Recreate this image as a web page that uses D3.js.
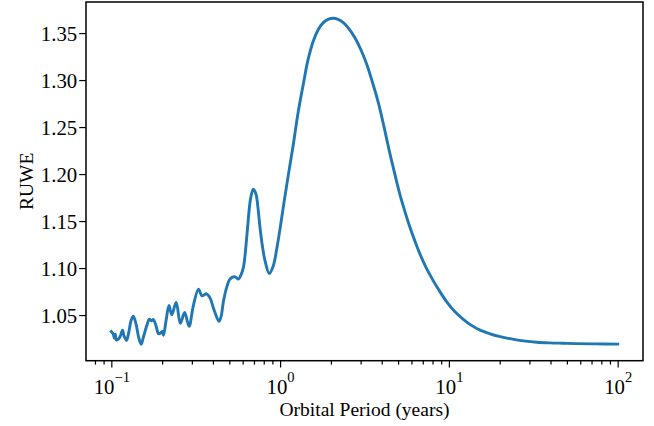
<!DOCTYPE html>
<html>
<head>
<meta charset="utf-8">
<script src="https://cdn.jsdelivr.net/npm/d3@7"></script>
<style>
  html, body { margin: 0; padding: 0; background: #fff; }
  svg text { font-family: "Liberation Serif", "Times New Roman", serif; fill: #000; }
</style>
</head>
<body>
<svg id="chart" width="654" height="426"></svg>
<script>
// Orbital period (years) sampled along the curve
const period = [
  0.100, 0.1027, 0.1041, 0.1056, 0.1070, 0.1100, 0.1126, 0.1165, 0.1189, 0.1230,
  0.1268, 0.1308, 0.1350, 0.1401, 0.1453, 0.1503, 0.1547, 0.1621, 0.1680, 0.1731,
  0.1774, 0.1840, 0.1904, 0.1943, 0.2005, 0.2038, 0.2109, 0.2197, 0.2280, 0.2423,
  0.2563, 0.2718, 0.2886, 0.3060, 0.3284, 0.3445, 0.3664, 0.3843, 0.4059, 0.4345,
  0.4466, 0.4621, 0.4815, 0.5015, 0.5190, 0.5406, 0.5671, 0.5867, 0.6053, 0.6195,
  0.6392, 0.6695, 0.6938, 0.7198, 0.7396, 0.7603, 0.7867, 0.8141, 0.8631, 0.9117,
  0.9548, 0.9989, 1.0447, 1.114, 1.198, 1.277, 1.372, 1.463, 1.573, 1.677,
  1.803, 1.922, 2.067, 2.203, 2.369, 2.560, 2.779, 3.016, 3.260, 3.504,
  3.818, 4.128, 4.437, 4.796, 5.134, 5.496, 5.885, 6.300, 6.745, 7.318,
  8.087, 8.863, 9.708, 10.87, 12.17, 13.53, 15.30, 17.52, 19.82, 22.01,
  24.65, 27.61, 33.28, 39.73, 47.45, 57.21, 74.44, 100.0
];

// RUWE at each sampled period
const ruwe = [
  1.0325, 1.0297, 1.0255, 1.0297, 1.0234, 1.0244, 1.0269, 1.0338, 1.0279, 1.0231,
  1.0314, 1.0439, 1.0489, 1.0404, 1.0261, 1.0188, 1.0261, 1.0386, 1.0457, 1.0439,
  1.0452, 1.0386, 1.0301, 1.0304, 1.0327, 1.0285, 1.0439, 1.0601, 1.0503, 1.0633,
  1.0412, 1.0527, 1.0380, 1.0598, 1.0776, 1.0705, 1.0726, 1.0683, 1.0556, 1.0433,
  1.0481, 1.0651, 1.0790, 1.0875, 1.0901, 1.0907, 1.0882, 1.0928, 1.1002, 1.1130,
  1.1396, 1.1747, 1.1839, 1.1786, 1.1640, 1.1431, 1.1226, 1.1077, 1.0942, 1.1024,
  1.1204, 1.1417, 1.1651, 1.1970, 1.2318, 1.2650, 1.2956, 1.3214, 1.3416, 1.3533,
  1.3611, 1.3645, 1.3657, 1.3645, 1.3611, 1.3544, 1.3448, 1.3320, 1.3168, 1.2991,
  1.2760, 1.2502, 1.2246, 1.1991, 1.1779, 1.1598, 1.1431, 1.1284, 1.1148, 1.1008,
  1.0864, 1.0747, 1.0641, 1.0534, 1.0455, 1.0393, 1.0340, 1.0301, 1.0273, 1.0255,
  1.0239, 1.0226, 1.0211, 1.0204, 1.0200, 1.0196, 1.0193, 1.0191
];

const yTicks = [1.05, 1.10, 1.15, 1.20, 1.25, 1.30, 1.35];
const xMajorTicks = [0.1, 1, 10, 100];
const xTickExponents = ["\u22121", "0", "1", "2"];
const xLabel = "Orbital Period (years)";
const yLabel = "RUWE";

const svg = d3.select("#chart");
const margin = { left: 86, top: 2, right: 11, bottom: 65.3 };
const W = 654, H = 426;
const plotW = W - margin.left - margin.right;
const plotH = H - margin.top - margin.bottom;
const fontSize = 19.5;
const tickFont = 20.8;

const data = period.map((p, i) => ({ p, v: ruwe[i] }));

// log x with 5% padding in decades; linear y with 5% padding
const lx0 = Math.log10(d3.min(period)), lx1 = Math.log10(d3.max(period));
const padX = (lx1 - lx0) * 0.05;
const x = d3.scaleLog()
  .domain([Math.pow(10, lx0 - padX), Math.pow(10, lx1 + padX)])
  .range([0, plotW]);

const [vMin, vMax] = d3.extent(ruwe);
const padY = (vMax - vMin) * 0.05;
const y = d3.scaleLinear()
  .domain([vMin - padY, vMax + padY])
  .range([plotH, 0]);

const g = svg.append("g").attr("transform", `translate(${margin.left},${margin.top})`);

// curve
const line = d3.line()
  .x(d => x(d.p))
  .y(d => y(d.v))
  .curve(d3.curveCatmullRom.alpha(0.5));

g.append("path")
  .datum(data)
  .attr("fill", "none")
  .attr("stroke", "#1f77b4")
  .attr("stroke-width", 2.9)
  .attr("stroke-linejoin", "round")
  .attr("stroke-linecap", "square")
  .attr("d", line);

// minor x ticks (2..9 per decade)
const minorTicks = [];
for (let e = -2; e <= 2; e++) {
  for (let m = 2; m <= 9; m++) {
    const t = m * Math.pow(10, e);
    if (t >= x.domain()[0] && t <= x.domain()[1]) minorTicks.push(t);
  }
}

const xAxisMinor = d3.axisBottom(x).tickValues(minorTicks).tickSize(3.9).tickFormat("");
const xAxisMajor = d3.axisBottom(x).tickValues(xMajorTicks).tickSize(6.8).tickFormat("");

const gxm = g.append("g").attr("transform", `translate(0,${plotH})`).call(xAxisMinor);
const gxM = g.append("g").attr("transform", `translate(0,${plotH})`).call(xAxisMajor);
[gxm, gxM].forEach(a => {
  a.select(".domain").remove();
  a.selectAll("line").attr("stroke", "#000").attr("stroke-width", 1.2);
});

// x tick labels as 10 with superscript exponent
gxM.selectAll(".tick").each(function (d, i) {
  const t = d3.select(this).append("text")
    .attr("y", 33)
    .attr("text-anchor", "middle")
    .attr("font-size", tickFont);
  t.append("tspan").text("10");
  t.append("tspan")
    .attr("dy", -tickFont * 0.55)
    .attr("font-size", tickFont * 0.7)
    .text(xTickExponents[i]);
});

// y axis
const yAxis = d3.axisLeft(y).tickValues(yTicks).tickSize(6.8).tickPadding(2).tickFormat(d3.format(".2f"));
const gy = g.append("g").call(yAxis);
gy.select(".domain").remove();
gy.selectAll("line").attr("stroke", "#000").attr("stroke-width", 1.2);
gy.selectAll("text")
  .attr("font-size", tickFont)
  .attr("font-family", "Liberation Serif, serif")
  .attr("fill", "#000")
  .attr("dy", "0.34em");

// frame
g.append("rect")
  .attr("x", 0).attr("y", 0)
  .attr("width", plotW).attr("height", plotH)
  .attr("fill", "none")
  .attr("stroke", "#000")
  .attr("stroke-width", 1.5);

// axis labels
svg.append("text")
  .attr("x", margin.left + plotW / 2)
  .attr("y", 416)
  .attr("text-anchor", "middle")
  .attr("font-size", fontSize)
  .text(xLabel);

svg.append("text")
  .attr("transform", `translate(33,${margin.top + plotH / 2}) rotate(-90)`)
  .attr("text-anchor", "middle")
  .attr("font-size", fontSize)
  .text(yLabel);
</script>
</body>
</html>
